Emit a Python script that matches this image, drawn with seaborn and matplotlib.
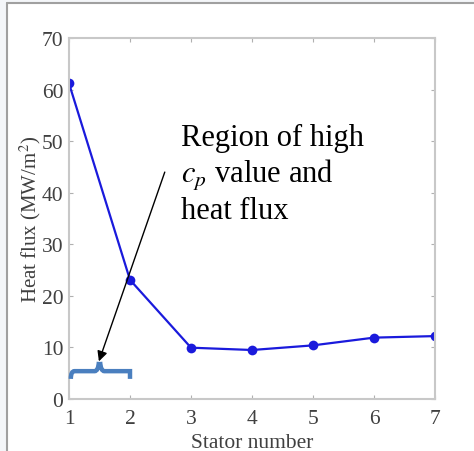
import matplotlib
matplotlib.use("Agg")
import matplotlib.pyplot as plt
import seaborn as sns
import pandas as pd
from matplotlib.path import Path
from matplotlib.patches import PathPatch, Rectangle
from matplotlib.lines import Line2D

stator = [1, 2, 3, 4, 5, 6, 7]
heat_flux = [61.2, 23.1, 9.95, 9.5, 10.4, 11.9, 12.2]
x_ticks = [1, 2, 3, 4, 5, 6, 7]
y_ticks = [0, 10, 20, 30, 40, 50, 60, 70]
annotation = "Region of high\n$c_p$ value and\nheat flux"

sns.set_theme(style="white")
plt.rcParams["font.family"] = ["Liberation Serif", "DejaVu Serif"]
plt.rcParams["mathtext.fontset"] = "stix"

df = pd.DataFrame({"Stator number": stator, "Heat flux": heat_flux})

fig = plt.figure(figsize=(4.74, 4.52), dpi=100, facecolor="#f4f6f9")
# white panel with grey frame on left and top
fig.add_artist(Rectangle((7 / 474, 0), 1, 1 - 4 / 452, transform=fig.transFigure,
                         facecolor="white", edgecolor="none", zorder=-10))
fig.add_artist(Line2D([7 / 474, 7 / 474], [0, 1 - 4 / 452], transform=fig.transFigure,
                      color="#a0a0a0", lw=1.5))
fig.add_artist(Line2D([7 / 474, 1], [1 - 4 / 452, 1 - 4 / 452], transform=fig.transFigure,
                      color="#a0a0a0", lw=1.5))

ax = fig.add_axes([69 / 474, 1 - 400 / 452, (435 - 69) / 474, (400 - 39) / 452])
ax.set_facecolor("white")
sns.lineplot(data=df, x="Stator number", y="Heat flux", ax=ax, color="#1a1adc",
             marker="o", markersize=7, markeredgewidth=0, linewidth=1.6)

ax.set_xlim(1, 7)
ax.set_ylim(0, 70)
ax.set_xticks(x_ticks)
ax.set_yticks(y_ticks)
ax.set_xlabel("Stator number", fontsize=15.5, color="#404040", labelpad=4)
ax.set_ylabel("Heat flux (MW/m$^{2}$)", fontsize=15, color="#404040", labelpad=-1)
ax.tick_params(axis="both", direction="in", length=3, width=0.8, color="#b0b0b0",
               labelsize=15.5, labelcolor="#404040", top=True, right=True,
               bottom=True, left=True)
ax.tick_params(axis="x", pad=7)
ax.tick_params(axis="y", pad=4)
for s in ax.spines.values():
    s.set_visible(True)
    s.set_color("#c8c8c8")
    s.set_linewidth(1.5)

# brace under region 1-2
x0, x1, xm = 1.03, 2.0, 1.5
yb, yh, yt = 3.9, 5.4, 7.2
verts = [(x0, yb), (x0, yh), (x0 + 0.06, yh), (x0 + 0.12, yh),
         (xm - 0.08, yh), (xm - 0.02, yh), (xm - 0.01, yt),
         (xm + 0.01, yt), (xm + 0.02, yh), (xm + 0.08, yh),
         (x1 - 0.09, yh), (x1 - 0.03, yh), (x1, yh), (x1, yb)]
codes = [Path.MOVETO, Path.CURVE3, Path.CURVE3, Path.LINETO,
         Path.LINETO, Path.CURVE3, Path.CURVE3,
         Path.MOVETO, Path.CURVE3, Path.CURVE3,
         Path.LINETO, Path.CURVE3, Path.CURVE3, Path.LINETO]
ax.add_patch(PathPatch(Path(verts, codes), facecolor="none", edgecolor="#4a7fbf",
                       lw=3.2, capstyle="butt", clip_on=False, zorder=3))

ax.annotate("", xy=(1.49, 7.3), xytext=(2.57, 44),
            arrowprops=dict(arrowstyle="-|>", color="black", lw=1.0,
                            mutation_scale=15, shrinkA=0, shrinkB=0))
ax.text(2.83, 53.6, annotation, fontsize=22, color="black", ha="left", va="top",
        linespacing=1.2)

fig.savefig("out.png", dpi=100, facecolor=fig.get_facecolor())
